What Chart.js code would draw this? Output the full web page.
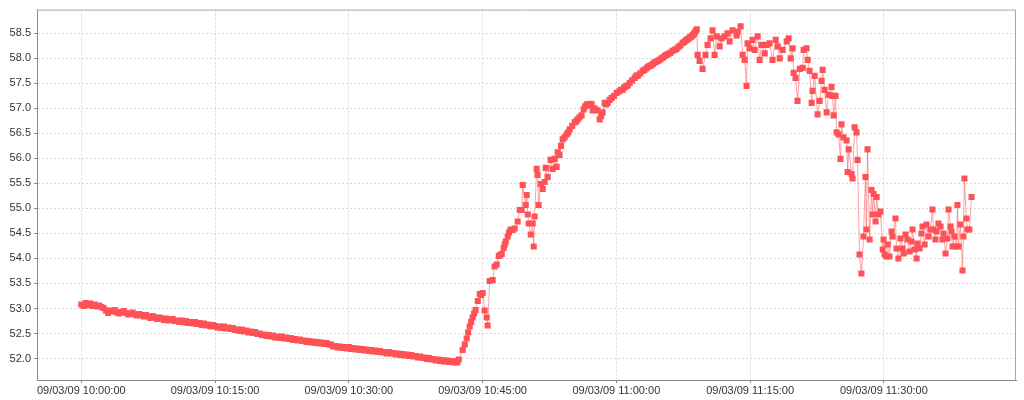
<!DOCTYPE html>
<html>
<head>
<meta charset="utf-8">
<title>09/03/09 readings</title>
<script src="https://cdn.jsdelivr.net/npm/chart.js@4.4.0/dist/chart.umd.min.js"></script>
<style>
    html, body { margin: 0; padding: 0; background: #ffffff; }
    canvas { display: block; }
</style>
</head>
<body>
<canvas id="myChart" width="1024" height="400"></canvas>
<script>
const datePrefix = "09/03/09";

// sample times (hh:mm:ss)
const times = [
    // slow drift down
    "10:00:00","10:00:15","10:00:30","10:00:45","10:01:00","10:01:15","10:01:30","10:01:45","10:02:00","10:02:15",
    "10:02:30","10:02:45","10:03:00","10:03:15","10:03:30","10:03:45","10:04:00","10:04:15","10:04:30","10:04:45",
    "10:05:00","10:05:15","10:05:30","10:05:45","10:06:00","10:06:15","10:06:30","10:06:45","10:07:00","10:07:15",
    "10:07:30","10:07:45","10:08:00","10:08:15","10:08:30","10:08:45","10:09:00","10:09:15","10:09:30","10:09:45",
    "10:10:00","10:10:15","10:10:30","10:10:45","10:11:00","10:11:15","10:11:30","10:11:45","10:12:00","10:12:15",
    "10:12:30","10:12:45","10:13:00","10:13:15","10:13:30","10:13:45","10:14:00","10:14:15","10:14:30","10:14:45",
    "10:15:00","10:15:15","10:15:30","10:15:45","10:16:00","10:16:15","10:16:30","10:16:45","10:17:00","10:17:15",
    "10:17:30","10:17:45","10:18:00","10:18:15","10:18:30","10:18:45","10:19:00","10:19:15","10:19:30","10:19:45",
    "10:20:00","10:20:15","10:20:30","10:20:45","10:21:00","10:21:15","10:21:30","10:21:45","10:22:00","10:22:15",
    "10:22:30","10:22:45","10:23:00","10:23:15","10:23:30","10:23:45","10:24:00","10:24:15","10:24:30","10:24:45",
    "10:25:00","10:25:15","10:25:30","10:25:45","10:26:00","10:26:15","10:26:30","10:26:45","10:27:00","10:27:15",
    "10:27:30","10:27:45","10:28:00","10:28:15","10:28:30","10:28:45","10:29:00","10:29:15","10:29:30","10:29:45",
    "10:30:00","10:30:15","10:30:30","10:30:45","10:31:00","10:31:15","10:31:30","10:31:45","10:32:00","10:32:15",
    "10:32:30","10:32:45","10:33:00","10:33:15","10:33:30","10:33:45","10:34:00","10:34:15","10:34:30","10:34:45",
    "10:35:00","10:35:15","10:35:30","10:35:45","10:36:00","10:36:15","10:36:30","10:36:45","10:37:00","10:37:15",
    "10:37:30","10:37:45","10:38:00","10:38:15","10:38:30","10:38:45","10:39:00","10:39:15","10:39:30","10:39:45",
    "10:40:00","10:40:15","10:40:30","10:40:45","10:41:00","10:41:15","10:41:30","10:41:45","10:42:00","10:42:10",
    "10:42:20",
    // climb
    "10:42:46","10:43:00","10:43:13","10:43:23","10:43:33","10:43:43","10:43:53","10:44:03","10:44:13","10:44:28",
    "10:44:41","10:44:51","10:45:01","10:45:14","10:45:28","10:45:34","10:45:48","10:46:08","10:46:21","10:46:35",
    "10:46:49","10:46:58","10:47:09","10:47:22","10:47:29","10:47:36","10:47:49","10:47:58","10:48:09","10:48:22",
    "10:48:36","10:48:56","10:49:10","10:49:23","10:49:30","10:49:50","10:49:57","10:50:04","10:50:10","10:50:24",
    "10:50:37","10:50:44","10:50:50","10:51:04","10:51:10","10:51:17","10:51:31","10:51:45","10:51:58","10:52:05",
    "10:52:18","10:52:38","10:52:52","10:53:05","10:53:18",
    "10:53:25","10:53:38","10:53:48","10:53:59","10:54:12","10:54:26","10:54:36","10:54:46","10:55:03","10:55:20",
    "10:55:30","10:55:40","10:55:52","10:56:06","10:56:20","10:56:30","10:56:41","10:56:52","10:57:03","10:57:14",
    "10:57:21","10:57:34","10:57:54","10:58:08","10:58:18","10:58:28","10:58:41","10:58:50",
    "10:59:02","10:59:15","10:59:29","10:59:45","11:00:02","11:00:20","11:00:31","11:00:42","11:00:53","11:01:05",
    "11:01:17","11:01:30","11:01:46","11:02:03","11:02:14","11:02:26","11:02:41","11:02:57","11:03:09","11:03:22",
    "11:03:33","11:03:44","11:03:55","11:04:07","11:04:17","11:04:27","11:04:39","11:04:51","11:05:03","11:05:15",
    "11:05:27","11:05:38","11:05:50","11:06:03","11:06:18","11:06:33","11:06:45","11:06:58","11:07:12","11:07:26",
    "11:07:37","11:07:48","11:07:58","11:08:09","11:08:18","11:08:27","11:08:36","11:08:44","11:08:52","11:09:01",
    // noisy top
    "11:09:07","11:09:20","11:09:40","11:10:00","11:10:14","11:10:34","11:10:47","11:11:01","11:11:15","11:11:35",
    "11:11:48","11:12:08","11:12:28","11:12:42","11:13:02","11:13:29","11:13:36","11:13:56","11:14:10","11:14:23",
    "11:14:36","11:14:43","11:14:56","11:15:16","11:15:30","11:15:51","11:16:04","11:16:18","11:16:38","11:16:51",
    "11:17:11","11:17:31","11:17:52","11:18:06","11:18:19","11:18:39","11:19:06","11:19:19","11:19:33","11:19:46",
    "11:19:53","11:20:06","11:20:19","11:20:34","11:20:54","11:21:00","11:21:20","11:21:27","11:21:40","11:21:54",
    "11:22:00","11:22:14","11:22:34","11:22:48","11:23:01","11:23:08","11:23:21","11:23:35","11:23:48","11:24:08",
    "11:24:15","11:24:22","11:24:35",
    // drop and noisy tail
    "11:24:42","11:24:55","11:25:08","11:25:15","11:25:28","11:25:49","11:25:56","11:26:03","11:26:23","11:26:29",
    "11:26:43","11:26:56","11:27:03","11:27:16","11:27:29","11:27:43","11:27:56","11:28:03","11:28:10","11:28:24",
    "11:28:37","11:28:44","11:28:51","11:29:04","11:29:11","11:29:24","11:29:37","11:29:52","11:29:58","11:30:05",
    "11:30:18","11:30:25","11:30:38","11:30:52","11:30:58","11:31:18","11:31:25","11:31:38","11:31:52","11:32:06",
    "11:32:13","11:32:26","11:32:39","11:32:53","11:33:06","11:33:13","11:33:26","11:33:40","11:33:46","11:34:00",
    "11:34:13","11:34:20","11:34:34","11:34:47","11:35:01","11:35:14","11:35:27","11:35:34","11:35:47","11:35:54",
    "11:36:07","11:36:21","11:36:34","11:36:41","11:36:55","11:37:08","11:37:15","11:37:29","11:37:35","11:37:42",
    "11:37:55","11:38:09","11:38:15","11:38:22","11:38:35","11:38:49","11:38:55","11:39:02","11:39:15","11:39:22",
    "11:39:35","11:39:50"
];

const values = [
    53.08, 53.05, 53.11, 53.07, 53.10, 53.05, 53.08, 53.04, 53.06, 53.03,
    53.01, 52.96, 52.91, 52.96, 52.94, 52.97, 52.92, 52.90, 52.93, 52.95,
    52.91, 52.88, 52.90, 52.92, 52.88, 52.86, 52.89, 52.87, 52.84, 52.87,
    52.84, 52.81, 52.85, 52.82, 52.79, 52.82, 52.80, 52.77, 52.80, 52.76,
    52.77, 52.79, 52.75, 52.76, 52.73, 52.76, 52.72, 52.75, 52.71, 52.73,
    52.70, 52.73, 52.69, 52.71, 52.67, 52.70, 52.66, 52.68, 52.64, 52.67,
    52.65, 52.62, 52.64, 52.61, 52.64, 52.60, 52.62, 52.59, 52.61, 52.57,
    52.58, 52.55, 52.58, 52.54, 52.56, 52.52, 52.54, 52.51, 52.53, 52.49,
    52.50, 52.47, 52.48, 52.45, 52.47, 52.44, 52.46, 52.42, 52.44, 52.41,
    52.44, 52.40, 52.42, 52.39, 52.41, 52.37, 52.39, 52.36, 52.38, 52.35,
    52.36, 52.33, 52.35, 52.32, 52.34, 52.31, 52.33, 52.30, 52.32, 52.29,
    52.31, 52.28, 52.28, 52.24, 52.25, 52.22, 52.24, 52.21, 52.23, 52.20,
    52.23, 52.19, 52.21, 52.18, 52.20, 52.17, 52.19, 52.16, 52.18, 52.15,
    52.17, 52.14, 52.16, 52.13, 52.15, 52.12, 52.13, 52.10, 52.13, 52.10,
    52.11, 52.08, 52.10, 52.07, 52.09, 52.06, 52.08, 52.05, 52.07, 52.04,
    52.05, 52.02, 52.04, 52.01, 52.02, 51.99, 52.01, 51.98, 51.99, 51.96,
    51.98, 51.95, 51.97, 51.94, 51.96, 51.93, 51.95, 51.92, 51.95, 51.92,
    51.98,

    52.17, 52.28, 52.40, 52.52, 52.64, 52.73, 52.82, 52.90, 52.97, 53.15,
    53.29, 53.27, 53.31, 52.96, 52.82, 52.66, 53.55, 53.57, 53.84, 53.88,
    54.05, 54.07, 54.09, 54.21, 54.28, 54.34, 54.44, 54.52, 54.58, 54.57,
    54.60, 54.74, 54.97, 54.97, 55.47, 55.07, 55.27, 54.88, 54.70, 54.48,
    54.70, 54.24, 54.84, 55.79, 55.67, 55.07, 55.49, 55.39, 55.53, 55.81,
    55.63, 55.97, 55.79, 55.99, 55.83,
    56.12, 56.07, 56.25, 56.38, 56.42, 56.48, 56.52, 56.58, 56.65, 56.72,
    56.74, 56.78, 56.82, 56.86, 56.98, 57.04, 57.08, 57.06, 57.09, 57.08,
    56.96, 57.00, 56.96, 56.78, 56.85, 56.92, 57.11, 57.08,
    57.11, 57.17, 57.21, 57.25, 57.31, 57.34, 57.37, 57.37, 57.42, 57.44,
    57.46, 57.51, 57.56, 57.61, 57.65, 57.66, 57.70, 57.75, 57.77, 57.80,
    57.83, 57.85, 57.86, 57.89, 57.92, 57.93, 57.95, 57.97, 58.00, 58.02,
    58.05, 58.07, 58.09, 58.11, 58.15, 58.17, 58.19, 58.23, 58.26, 58.31,
    58.33, 58.36, 58.38, 58.40, 58.43, 58.44, 58.47, 58.50, 58.54, 58.58,

    58.07, 57.95, 57.79, 58.07, 58.27, 58.40, 58.56, 58.07, 58.44, 58.24,
    58.40, 58.44, 58.50, 58.34, 58.56, 58.46, 58.53, 58.64, 58.07, 57.97,
    57.45, 58.30, 58.20, 58.37, 58.17, 58.44, 57.97, 58.27, 58.10, 58.27,
    58.30, 57.97, 58.37, 58.24, 58.00, 58.17, 58.34, 58.40, 58.00, 58.20,
    57.71, 57.61, 57.15, 57.79, 57.81, 58.17, 58.20, 57.97, 57.75, 57.11,
    57.35, 57.65, 56.88, 57.15, 57.55, 57.77, 57.37, 56.92, 57.27, 57.43,
    57.25, 56.86, 57.25,

    56.52, 56.48, 55.99, 56.68, 56.42, 56.36, 55.73, 56.18, 55.69, 55.60,
    56.62, 56.52, 55.97, 54.08, 53.70, 54.44, 55.63, 54.58, 56.18, 54.38,
    55.37, 54.88, 55.29, 54.74, 55.23, 54.88, 54.94, 54.18, 54.38, 54.08,
    54.04, 54.28, 54.04, 54.54, 54.44, 54.80, 54.20, 54.00, 54.40, 54.20,
    54.10, 54.48, 54.38, 54.14, 54.34, 54.58, 54.18, 54.00, 54.30, 54.20,
    54.50, 54.64, 54.28, 54.68, 54.44, 54.58, 54.98, 54.58, 54.38, 54.54,
    54.70, 54.64, 54.38, 54.50, 54.10, 54.40, 54.98, 54.64, 54.54, 54.24,
    54.44, 54.24, 55.07, 54.24, 54.68, 53.76, 54.44, 55.60, 54.80, 54.58,
    54.58, 55.23
];

const xTickTimes = ["10:00:00", "10:15:00", "10:30:00", "10:45:00", "11:00:00", "11:15:00", "11:30:00"];
const yTickValues = [52.0, 52.5, 53.0, 53.5, 54.0, 54.5, 55.0, 55.5, 56.0, 56.5, 57.0, 57.5, 58.0, 58.5];

// seconds since 10:00:00
function toSeconds(t){
    const p = t.split(":").map(Number);
    return p[0] * 3600 + p[1] * 60 + p[2] - 36000;
}

function toClock(s){
    s = Math.round(s) + 36000;
    const h = Math.floor(s / 3600);
    const m = Math.floor((s % 3600) / 60);
    const sec = s % 60;
    const pad = (n) => String(n).padStart(2, "0");
    return pad(h) + ":" + pad(m) + ":" + pad(sec);
}

// light outline on the top and right of the plot
const plotOutline = {
    id: "plotOutline",
    beforeDatasetsDraw(chart){
        const {ctx, chartArea: a} = chart;
        ctx.save();
        ctx.strokeStyle = "#a8a8a8";
        ctx.lineWidth = 1;
        ctx.beginPath();
        ctx.moveTo(a.left, a.top + 0.5);
        ctx.lineTo(a.right - 0.5, a.top + 0.5);
        ctx.lineTo(a.right - 0.5, a.bottom);
        ctx.stroke();
        ctx.restore();
    }
};

const tickFont = { family: "'Liberation Sans', Arial, sans-serif", size: 11 };

const grid = {
    color: "#d9d9d9",
    lineWidth: 1,
    drawTicks: true,
    tickLength: 3,
    tickColor: "#888888",
    tickBorderDash: []
};

const ctx = document.getElementById("myChart").getContext("2d");

new Chart(ctx, {
    type: "line",
    data: {
        datasets: [{
            data: times.map((t, i) => ({ x: toSeconds(t), y: values[i] })),
            borderColor: "rgba(255, 82, 87, 0.55)",
            borderWidth: 1,
            pointStyle: "rect",
            pointRadius: 4.3,
            pointBorderWidth: 0,
            pointBackgroundColor: "#ff5257",
            tension: 0,
            fill: false
        }]
    },
    options: {
        responsive: false,
        devicePixelRatio: 1,
        animation: false,
        events: [],
        layout: { padding: { top: 6, right: 8, left: 0, bottom: 0 } },
        plugins: {
            legend: { display: false },
            tooltip: { enabled: false }
        },
        scales: {
            x: {
                type: "linear",
                min: -298,
                max: 6289,
                afterBuildTicks: (scale) => {
                    scale.ticks = xTickTimes.map(t => ({ value: toSeconds(t) }));
                },
                afterFit: (scale) => { scale.height = 20; },
                ticks: {
                    autoSkip: false,
                    maxRotation: 0,
                    padding: 1,
                    color: "#333333",
                    font: tickFont,
                    callback: (value) => datePrefix + " " + toClock(value)
                },
                grid: grid,
                border: { display: true, color: "#888888", width: 1, dash: [2, 2] }
            },
            y: {
                min: 51.57,
                max: 58.975,
                afterBuildTicks: (scale) => {
                    scale.ticks = yTickValues.map(v => ({ value: v }));
                },
                afterFit: (scale) => { scale.width = 37; },
                ticks: {
                    padding: 3,
                    color: "#333333",
                    font: tickFont,
                    callback: (value) => value.toFixed(1)
                },
                grid: grid,
                border: { display: true, color: "#888888", width: 1, dash: [2, 2] }
            }
        }
    },
    plugins: [plotOutline]
});
</script>
</body>
</html>
